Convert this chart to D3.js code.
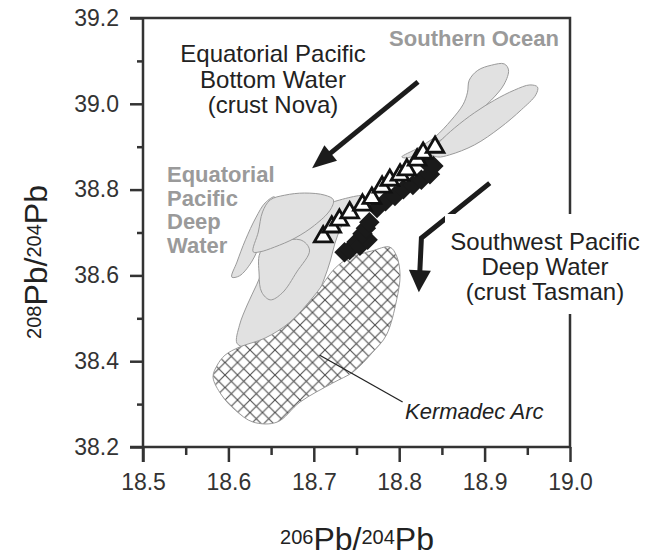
<!DOCTYPE html>
<html>
<head>
<meta charset="utf-8">
<script src="https://cdn.jsdelivr.net/npm/d3@7"></script>
<style>
  body { margin: 0; background: #fff; }
  svg { display: block; font-family: "Liberation Sans", Arial, sans-serif; }
</style>
</head>
<body>
<script>
// axis ticks
const xTicks = [18.5, 18.6, 18.7, 18.8, 18.9, 19.0];
const yTicks = [38.2, 38.4, 38.6, 38.8, 39.0, 39.2];
const xMinor = [18.55, 18.65, 18.75, 18.85, 18.95];
const yMinor = [38.3, 38.5, 38.7, 38.9, 39.1];

// crust Nova (open triangles)
const novaX = [18.711, 18.721, 18.730, 18.742, 18.757, 18.768, 18.780, 18.789, 18.801, 18.809, 18.821, 18.828, 18.842];
const novaY = [38.690, 38.713, 38.729, 38.746, 38.764, 38.780, 38.806, 38.822, 38.834, 38.846, 38.869, 38.885, 38.899];

// crust Tasman (filled diamonds)
const tasmanX = [18.736, 18.742, 18.750, 18.754, 18.763, 18.757, 18.761, 18.765, 18.774, 18.784, 18.795, 18.805,
  18.816, 18.826, 18.836, 18.840, 18.832];
const tasmanY = [38.654, 38.659, 38.678, 38.669, 38.683, 38.697, 38.710, 38.724, 38.757, 38.773, 38.785, 38.801,
  38.811, 38.823, 38.836, 38.855, 38.864];

// fields (206Pb/204Pb, 208Pb/204Pb)
const southernOcean1 = [[18.803, 38.876], [18.822, 38.897], [18.842, 38.923], [18.861, 38.962], [18.875, 38.999],
  [18.880, 39.027], [18.882, 39.055], [18.892, 39.078], [18.908, 39.090], [18.923, 39.093], [18.928, 39.079],
  [18.923, 39.046], [18.908, 39.009], [18.885, 38.969], [18.857, 38.927], [18.830, 38.892], [18.810, 38.874]];
const southernOcean2 = [[18.836, 38.885], [18.847, 38.911], [18.865, 38.944], [18.888, 38.979], [18.912, 39.009],
  [18.935, 39.032], [18.953, 39.044], [18.962, 39.039], [18.960, 39.021], [18.943, 38.986], [18.918, 38.944],
  [18.888, 38.904], [18.859, 38.881], [18.845, 38.876]];
const epdwLower = [[18.610, 38.442], [18.613, 38.484], [18.622, 38.531], [18.633, 38.578], [18.643, 38.624],
  [18.651, 38.659], [18.666, 38.701], [18.689, 38.741], [18.719, 38.769], [18.760, 38.785], [18.742, 38.748],
  [18.728, 38.694], [18.716, 38.613], [18.698, 38.531], [18.672, 38.477], [18.639, 38.445], [18.619, 38.433]];
const epdwLeft = [[18.604, 38.596], [18.610, 38.631], [18.620, 38.683], [18.632, 38.734], [18.643, 38.769],
  [18.654, 38.783], [18.649, 38.741], [18.639, 38.683], [18.627, 38.631], [18.613, 38.599]];
const epdwMiddle = [[18.639, 38.659], [18.636, 38.601], [18.639, 38.561], [18.649, 38.543], [18.663, 38.559],
  [18.680, 38.608], [18.695, 38.659], [18.684, 38.683]];
const epdwTop = [[18.629, 38.655], [18.635, 38.701], [18.640, 38.748], [18.649, 38.776], [18.666, 38.787],
  [18.689, 38.792], [18.713, 38.787], [18.723, 38.776], [18.719, 38.752], [18.701, 38.717], [18.678, 38.687],
  [18.654, 38.666], [18.637, 38.655]];
const kermadec = [[18.587, 38.391], [18.596, 38.414], [18.613, 38.433], [18.643, 38.454], [18.672, 38.491],
  [18.701, 38.554], [18.725, 38.617], [18.742, 38.641], [18.768, 38.657], [18.789, 38.666], [18.797, 38.645],
  [18.801, 38.601], [18.797, 38.543], [18.785, 38.461], [18.769, 38.421], [18.746, 38.375], [18.722, 38.349],
  [18.684, 38.305], [18.657, 38.258], [18.629, 38.258], [18.608, 38.286], [18.592, 38.321], [18.582, 38.363]];

// arrows and leader
const novaArrow = [[18.822, 39.051], [18.698, 38.850]];
const tasmanArrow = [[18.906, 38.815], [18.826, 38.687], [18.823, 38.561]];
const kermadecLeader = [[18.707, 38.414], [18.804, 38.305]];

const width = 654;
const height = 558;

let svg = d3.select("body").append("svg")
  .attr("width", width)
  .attr("height", height);

let x = d3.scaleLinear().domain([18.5, 19.0]).range([143, 570]);
let y = d3.scaleLinear().domain([38.2, 39.2]).range([447, 18]);

let defs = svg.append("defs");
let hatch = defs.append("pattern")
  .attr("id", "hatch")
  .attr("patternUnits", "userSpaceOnUse")
  .attr("width", 12.5)
  .attr("height", 12.5);
hatch.append("rect").attr("width", 12.5).attr("height", 12.5).attr("fill", "#fff");
hatch.append("path")
  .attr("d", "M-1,-1L13.5,13.5M-1,13.5L13.5,-1")
  .attr("stroke", "#4d4d4d")
  .attr("stroke-width", 1.1);

let field = d3.line()
  .x(d => x(d[0]))
  .y(d => y(d[1]))
  .curve(d3.curveCatmullRomClosed.alpha(0.5));

// grey fields
[southernOcean1, southernOcean2, epdwLower, epdwLeft, epdwMiddle, epdwTop].forEach(poly => {
  svg.append("path")
    .attr("d", field(poly))
    .attr("fill", "#e1e1e1")
    .attr("stroke", "#9a9a9a")
    .attr("stroke-width", 1);
});

// Kermadec Arc field
svg.append("path")
  .attr("d", field(kermadec))
  .attr("fill", "url(#hatch)")
  .attr("stroke", "#9a9a9a")
  .attr("stroke-width", 1);

svg.append("line")
  .attr("x1", x(kermadecLeader[0][0])).attr("y1", y(kermadecLeader[0][1]))
  .attr("x2", x(kermadecLeader[1][0])).attr("y2", y(kermadecLeader[1][1]))
  .attr("stroke", "#222")
  .attr("stroke-width", 1.3);

// diamonds
svg.append("g").selectAll("path")
  .data(tasmanX.map((v, i) => [v, tasmanY[i]]))
  .join("path")
  .attr("d", d3.symbol(d3.symbolSquare, 210))
  .attr("transform", d => `translate(${x(d[0])},${y(d[1])}) rotate(45)`)
  .attr("fill", "#1a1a1a");

// triangles
svg.append("g").selectAll("path")
  .data(novaX.map((v, i) => [v, novaY[i]]))
  .join("path")
  .attr("d", d3.symbol(d3.symbolTriangle, 135))
  .attr("transform", d => `translate(${x(d[0])},${y(d[1])})`)
  .attr("fill", "#fff")
  .attr("stroke", "#111")
  .attr("stroke-width", 2.8)
  .attr("stroke-linejoin", "miter");

// arrows
function drawArrow(pts, headLen, headHalf) {
  let p = pts.map(d => [x(d[0]), y(d[1])]);
  let n = p.length;
  let tip = p[n - 1], prev = p[n - 2];
  let dx = tip[0] - prev[0], dy = tip[1] - prev[1];
  let len = Math.hypot(dx, dy);
  let ux = dx / len, uy = dy / len;
  let base = [tip[0] - ux * headLen, tip[1] - uy * headLen];
  let inner = [base[0] + ux * 3, base[1] + uy * 3];
  svg.append("path")
    .attr("d", d3.line()(p.slice(0, n - 1).concat([inner])))
    .attr("fill", "none")
    .attr("stroke", "#1c1c1c")
    .attr("stroke-width", 5)
    .attr("stroke-linejoin", "miter");
  svg.append("path")
    .attr("d", d3.line()([tip,
      [base[0] - uy * headHalf, base[1] + ux * headHalf],
      [base[0] + uy * headHalf, base[1] - ux * headHalf]]) + "Z")
    .attr("fill", "#1c1c1c");
}
drawArrow(novaArrow, 24, 10);
drawArrow(tasmanArrow, 22, 11);

// frame and axes
let frame = svg.append("g")
  .attr("fill", "none")
  .attr("stroke", "#333")
  .attr("stroke-width", 2.5);

frame.append("path")
  .attr("d", `M${x(18.5) - 13},${y(39.2)}H${x(19.0)}V${y(38.2)}H${x(18.5) - 13}M${x(18.5)},${y(39.2)}V${y(38.2) + 15}`);

svg.append("g")
  .attr("transform", `translate(0,${y(38.2)})`)
  .call(d3.axisBottom(x).tickValues(xTicks).tickSize(15).tickPadding(12).tickFormat(d3.format(".1f")))
  .call(g => g.select(".domain").remove())
  .call(g => g.selectAll("line").attr("stroke", "#333").attr("stroke-width", 2.5))
  .call(g => g.selectAll("text").attr("font-size", 23).attr("fill", "#333").attr("font-family", "Liberation Sans, Arial, sans-serif"));

svg.append("g")
  .attr("transform", `translate(0,${y(38.2)})`)
  .call(d3.axisBottom(x).tickValues(xMinor).tickSize(8).tickFormat(""))
  .call(g => g.select(".domain").remove())
  .call(g => g.selectAll("line").attr("stroke", "#333").attr("stroke-width", 2.5));

svg.append("g")
  .attr("transform", `translate(${x(18.5)},0)`)
  .call(d3.axisLeft(y).tickValues(yTicks).tickSize(13).tickPadding(11).tickFormat(d3.format(".1f")))
  .call(g => g.select(".domain").remove())
  .call(g => g.selectAll("line").attr("stroke", "#333").attr("stroke-width", 2.5))
  .call(g => g.selectAll("text").attr("font-size", 23).attr("fill", "#333").attr("font-family", "Liberation Sans, Arial, sans-serif"));

svg.append("g")
  .attr("transform", `translate(${x(18.5)},0)`)
  .call(d3.axisLeft(y).tickValues(yMinor).tickSize(6).tickFormat(""))
  .call(g => g.select(".domain").remove())
  .call(g => g.selectAll("line").attr("stroke", "#333").attr("stroke-width", 2.5));

// axis titles
function isoTitle(sel, a, b) {
  sel.append("tspan").attr("font-size", 20).attr("dy", -6).text(a);
  sel.append("tspan").attr("font-size", 32).attr("dy", 6).text("Pb/");
  sel.append("tspan").attr("font-size", 20).attr("dy", -6).text(b);
  sel.append("tspan").attr("font-size", 32).attr("dy", 6).text("Pb");
}
svg.append("text")
  .attr("x", 357).attr("y", 550)
  .attr("text-anchor", "middle")
  .attr("fill", "#222")
  .call(isoTitle, "206", "204");

svg.append("text")
  .attr("transform", "translate(47,262) rotate(-90)")
  .attr("text-anchor", "middle")
  .attr("fill", "#222")
  .call(isoTitle, "208", "204");

// annotations
svg.append("rect")
  .attr("x", 445).attr("y", 214).attr("width", 209).attr("height", 100)
  .attr("fill", "#fff");

function block(lines, xPos, y0, step, opts) {
  let t = svg.append("text")
    .attr("x", xPos).attr("y", y0)
    .attr("text-anchor", opts.anchor || "middle")
    .attr("font-size", opts.size)
    .attr("font-weight", opts.weight || "normal")
    .attr("font-style", opts.style || "normal")
    .attr("fill", opts.fill || "#222");
  lines.forEach((s, i) => {
    t.append("tspan").attr("x", xPos).attr("y", y0 + i * step).text(s);
  });
}

block(["Equatorial Pacific", "Bottom Water", "(crust Nova)"], 273, 62, 25.5, { size: 24 });
block(["Southwest Pacific", "Deep Water", "(crust Tasman)"], 545, 250, 25, { size: 24 });
block(["Southern Ocean"], 559, 46, 0, { size: 22, weight: "bold", anchor: "end", fill: "#9a9a9a" });
block(["Equatorial", "Pacific", "Deep", "Water"], 167, 182, 23.5, { size: 22, weight: "bold", anchor: "start", fill: "#9a9a9a" });
block(["Kermadec Arc"], 405, 419, 0, { size: 22, style: "italic", anchor: "start" });
</script>
</body>
</html>
